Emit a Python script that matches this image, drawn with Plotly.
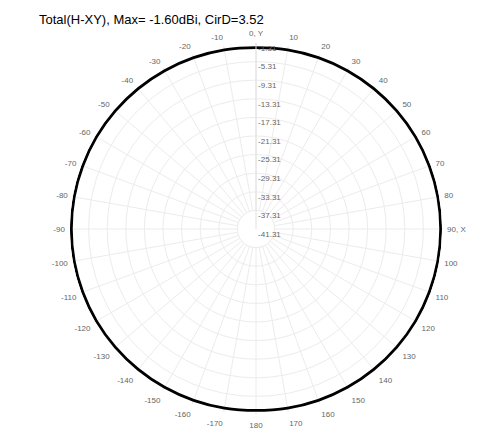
import plotly.graph_objects as go

# Data
angles = list(range(0, 360, 10)) + [360]
gain_dbi = [-2.3, -2.2, -2.1, -2.0, -1.9, -1.8, -1.7, -1.65, -1.6, -1.6,
            -1.6, -1.65, -1.7, -1.8, -1.9, -2.0, -2.1, -2.2, -2.3, -2.2,
            -2.1, -2.0, -1.9, -1.8, -1.7, -1.65, -1.6, -1.6, -1.6, -1.65,
            -1.7, -1.8, -1.9, -2.0, -2.1, -2.2]
gain_dbi = gain_dbi + [gain_dbi[0]]

radial_ticks = [-41.31, -37.31, -33.31, -29.31, -25.31, -21.31, -17.31, -13.31, -9.31, -5.31, -1.31]
ang_tickvals = list(range(0, 360, 10))
ang_ticktext = ["0, Y"] + [str(a) for a in range(10, 90, 10)] + ["90, X"] + \
    [str(a) for a in range(100, 190, 10)] + [str(a - 360) for a in range(190, 360, 10)]

title_text = "Total(H-XY), Max= -1.60dBi, CirD=3.52"
inner_ring = radial_ticks[1]

fig = go.Figure()
# white disc hiding the angular grid inside the first ring
fig.add_trace(go.Scatterpolar(
    r=[inner_ring] * len(angles), theta=angles, mode="lines",
    fill="toself", fillcolor="white", line=dict(color="#ececec", width=1),
    hoverinfo="skip", showlegend=False,
))
fig.add_trace(go.Scatterpolar(
    r=gain_dbi, theta=angles, mode="lines",
    line=dict(color="black", width=2.8, shape="spline"),
    hoverinfo="skip", showlegend=False,
))

W, H = 484, 431
cx, cy, R = 248, 221, 186
fig.update_layout(
    width=W, height=H,
    margin=dict(l=0, r=0, t=0, b=0),
    paper_bgcolor="white",
    font=dict(family="Liberation Sans, Arial, sans-serif"),
    annotations=[dict(
        text=title_text, x=29 / W, y=1 - 12 / H, xref="paper", yref="paper",
        xanchor="left", yanchor="middle", showarrow=False,
        font=dict(size=13, color="black", family="Liberation Sans, Arial, sans-serif"),
    )],
    polar=dict(
        domain=dict(x=[(cx - R) / W, (cx + R) / W], y=[(H - cy - R) / H, (H - cy + R) / H]),
        bgcolor="white",
        radialaxis=dict(
            range=[-41.31, -1.31], tickvals=radial_ticks,
            ticktext=[f"<br>{v:.2f}" for v in radial_ticks],
            angle=90, tickangle=90, side="clockwise",
            showline=True, linecolor="#e0e0e0", linewidth=1,
            gridcolor="#ececec", gridwidth=1,
            ticks="", tickfont=dict(size=8, color="#666666"),
        ),
        angularaxis=dict(
            rotation=90, direction="clockwise",
            tickvals=ang_tickvals, ticktext=ang_ticktext,
            gridcolor="#ececec", gridwidth=1,
            showline=False, ticks="outside", ticklen=3,
            tickcolor="rgba(0,0,0,0)",
            tickfont=dict(size=8, color="#666666"),
        ),
    ),
)

fig.write_html("out.html")
